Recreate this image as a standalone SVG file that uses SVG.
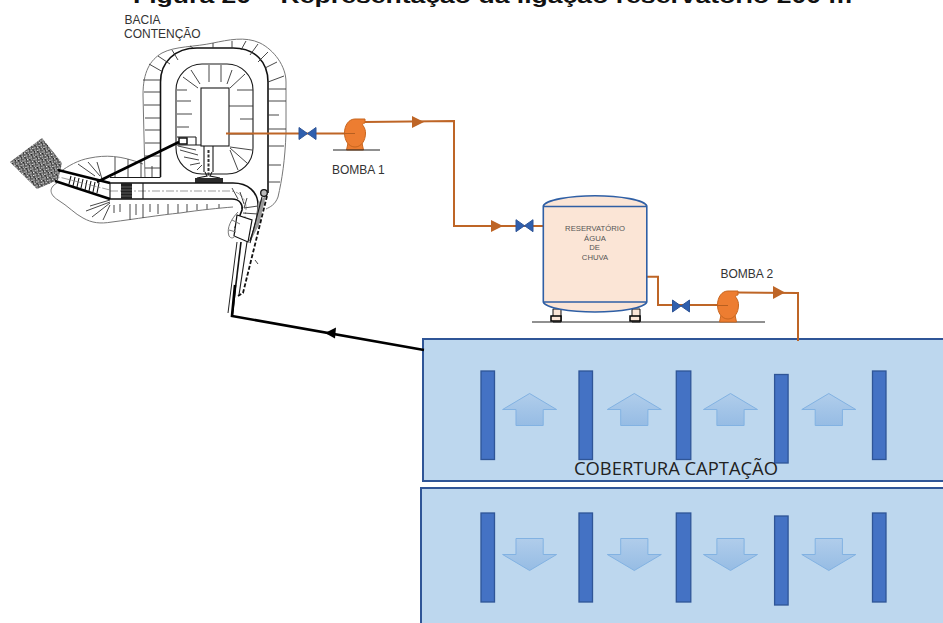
<svg xmlns="http://www.w3.org/2000/svg" width="943" height="623" viewBox="0 0 943 623">
<style>
text{font-family:"Liberation Sans",Arial,sans-serif}
.lab{font-size:12px;fill:#333}
.tk{font-size:7.7px;fill:#555;text-anchor:middle}
.pipe{fill:none;stroke:#BE6526;stroke-width:2}
.ah{fill:#BE6526}
.panel{fill:#BDD7EE;stroke:#2F5597;stroke-width:2}
.bar{fill:#4472C4;stroke:#2F5597;stroke-width:1.3}
.arr{fill:url(#ag);stroke:#82B2E2;stroke-width:1}
.valve{fill:#2F5FAE;stroke:#2F5597;stroke-width:1}
.pump{fill:#ED7D31;stroke:#C8661F;stroke-width:1}
.floor{stroke:#222;stroke-width:1.2;fill:none}
.gr{fill:none;stroke:#777;stroke-width:1}
.tick{fill:none;stroke:#333;stroke-width:.9}
.w{fill:none;stroke:#1a1a1a;stroke-width:1.1}
.th{fill:none;stroke:#111;stroke-width:1.6}
.thk{fill:none;stroke:#000;stroke-width:2.6}
.dd{fill:none;stroke:#777;stroke-width:.7;stroke-dasharray:8 2 2 2}
</style>
<defs>
<linearGradient id="ag" x1="0" y1="0" x2="0" y2="1"><stop offset="0" stop-color="#B0CDEB"/><stop offset="1" stop-color="#96BCE4"/></linearGradient>
<pattern id="sp" width="5" height="5" patternUnits="userSpaceOnUse" patternTransform="rotate(20)">
<rect width="5" height="5" fill="#555"/>
<rect x="0" y="0" width="1.4" height="1.2" fill="#fff"/><rect x="2.5" y="1.3" width="1.3" height="1.3" fill="#fff"/><rect x="1" y="3" width="1.4" height="1" fill="#eee"/><rect x="3.6" y="3.6" width="1.2" height="1.2" fill="#fff"/>
<rect x="3.9" y="0.3" width="1" height="1" fill="#000"/><rect x="2.2" y="4" width="1" height="1" fill="#000"/>
</pattern>
<g id="vv"><path class="valve" d="M-8.5,-6 L0,0 L-8.5,6Z M8.5,-6 L0,0 L8.5,6Z"/></g>
<g id="pp"><path class="pump" d="M-7,10 L-8.5,17 L8.5,17 L7,10Z"/><path class="pump" d="M0,-14 L10,-14 L10,-10 C8,-10 7,-9 8,-7.5 C10,-5 10.5,-2 10.5,0 C10.5,8 6,14 0,14 C-6,14 -10.5,8 -10.5,0 C-10.5,-8 -6,-14 0,-14Z"/></g>
</defs>

<rect width="943" height="623" fill="#fff"/>
<text id="titulo" x="133" y="2.5" font-size="19.5" font-weight="700" fill="#111" textLength="719" lengthAdjust="spacingAndGlyphs">Figura 20 – Representação da ligação reservatório 200 m</text>

<g id="cobertura-superior">
<rect class="panel" x="423" y="339" width="525" height="142"/>
<rect class="bar" x="481" y="371" width="13.5" height="88.5"/>
<rect class="bar" x="579" y="371" width="13.5" height="88.5"/>
<rect class="bar" x="676.3" y="371" width="14.5" height="88.5"/>
<rect class="bar" x="774.6" y="374.5" width="13.5" height="88.5"/>
<rect class="bar" x="872.5" y="371" width="13.5" height="88.5"/>
<path class="arr" d="M529.6,393.500 l27,16 h-13.400 v16 h-27.200 v-16 h-13.400Z"/>
<path class="arr" d="M634.300,393.500 l27,16 h-13.400 v16 h-27.200 v-16 h-13.400Z"/>
<path class="arr" d="M730.500,393.500 l27,16 h-13.400 v16 h-27.200 v-16 h-13.400Z"/>
<path class="arr" d="M828.800,393.500 l27,16 h-13.400 v16 h-27.200 v-16 h-13.400Z"/>
<text x="574" y="475" font-size="19" fill="#222" style="font-family:'Open Sans','Noto Sans',sans-serif" textLength="204" lengthAdjust="spacingAndGlyphs">COBERTURA CAPTAÇÃO</text>
</g>
<g id="cobertura-inferior">
<rect class="panel" x="421" y="488" width="527" height="140"/>
<rect class="bar" x="481" y="513" width="13.5" height="89"/>
<rect class="bar" x="579" y="513" width="13.5" height="89"/>
<rect class="bar" x="676.3" y="513" width="14.5" height="89"/>
<rect class="bar" x="774.6" y="516" width="13.5" height="89"/>
<rect class="bar" x="872.5" y="513" width="13.5" height="89"/>
<path class="arr" d="M529.6,570.500 l27,-16 h-13.400 v-16 h-27.200 v16 h-13.400Z"/>
<path class="arr" d="M634.300,570.500 l27,-16 h-13.400 v-16 h-27.200 v16 h-13.400Z"/>
<path class="arr" d="M730.500,570.500 l27,-16 h-13.400 v-16 h-27.200 v16 h-13.400Z"/>
<path class="arr" d="M828.800,570.500 l27,-16 h-13.400 v-16 h-27.200 v16 h-13.400Z"/>
</g>

<g id="bacia-contencao">
<text class="lab" x="124.500" y="24">BACIA</text>
<text class="lab" x="124" y="38">CONTENÇÃO</text>
<path class="gr" d="M145,178 L143,95 C143,72 150,60 162,53 C175,46 195,47 213,43 C228,40 245,36 260,43 C274,50 286,66 286,82 L286,133 C285,160 282,180 278,197 C275,205 270,207 266,209"/>
<path class="gr" d="M60,172 C68,166 78,160 90,158 C105,155 120,155 143,164"/>
<path class="gr" d="M57,183 C48,188 50,195 58,200 C68,206 75,214 83,218 C92,223 100,224 112,222 C135,219 160,215 180,213 C200,210 220,208 233,207"/>
<path class="th" d="M160.500,177 V82 C160.500,62 175,48 197,48 H233 C255,48 268,62 268,82 V193"/>
<path class="w" d="M110,177.500 H160.500"/>
<rect class="w" x="176" y="64" width="77" height="110" rx="26"/>
<rect class="w" x="201" y="88" width="28" height="58" fill="#fff"/>
<path class="w" d="M177,137 H196 M177,145 H201 M196,137 V145"/>
<rect x="179" y="138" width="8" height="6" fill="none" stroke="#111" stroke-width="1.500"/>
<path class="tick" d="M143,80 H160 M144,92 H160 M144,105 H160 M145,118 H160 M145,130 H160 M145,143 H160 M145,156 H160 M145,168 H160 M149,64 L163,72 M158,56 L170,64 M172,50 L178,60 M190,46 L193,48 M213,43 V48 M232,41 L232,48 M246,41 L241,50 M258,44 L250,55 M268,52 L258,62 M277,62 L265,68 M284,76 L268,82 M268,89 H286 M268,101 H286 M268,115 L279,115 M268,129 H286 M268,146 H284 M268,165 H281 M268,182 H280"/>
<path class="tick" d="M177,90 H187 M177,101 H191 M177,114 H192 M177,127 H189 M229,106 H253 M237,90 H253 M240,119 H253 M229,134 H253 M209,65 V82 M221,65 V82 M191,70 L200,84 M183,77 L198,88 M232,70 L227,84 M245,74 L230,88 M180,150 L198,155 M184,157 L199,160 M190,165 L200,163 M197,170 L202,165 M178,146 L196,150 M230,150 L238,170 M230,148 L247,163 M230,147 L252,150"/>
<path class="tick" d="M97,162 L102,179 M115,157 V177 M128,159 V177 M141,162 V177 M152,166 V177 M78,164 L95,176 M88,162 L100,176 M114,205 V213 M120,204 V212 M130,204 V220 M136,204 V215 M143,204 V218 M150,204 V212 M158,204 V214 M168,204 V214 M178,204 V213 M187,204 V212 M197,204 V210 M207,204 V209 M219,204 V208 M110,202 L86,211 M110,203 L92,217 M110,205 L103,220 M110,200 L90,206"/>
<path class="w" d="M204,146 V172 M213,146 V172"/>
<path class="w" d="M205,172 L207,176 L197,178 M212,172 L210,176 L220,178"/>
<rect x="195" y="178" width="28" height="5" fill="#2a2a2a"/>
<path d="M208.500,150 V176" stroke="#333" stroke-width="2" stroke-dasharray="3 1.500" fill="none"/>
<path class="th" d="M110,183 H233 C248,183 258,192 258,205 C258,215 255,228 250,241"/>
<path class="th" d="M110,199 H232 C240,199 243,205 242,210 L235,228"/>
<path class="dd" d="M110,191 H230 C240,191 247,200 246,210 L242,236"/>
<path class="w" d="M143,183 V199 M110,183 V199"/>
<rect x="121" y="183" width="11" height="16" fill="#222"/>
<path d="M121,187 H132 M121,190 H132 M121,193 H132 M121,196 H132" stroke="#777" stroke-width=".7"/>
<path d="M237,215 L252,220 L248,242 L234,236Z" fill="#fff" stroke="#111" stroke-width="1.200"/>
<path class="gr" d="M238,212 C232,218 226,228 229,236 C231,239 234,238 235,236 M232,220 L240,224 M229,230 L236,232"/>
<path class="tick" d="M232,188 L238,199 M240,192 L244,204 M247,198 L244,208 M258,206 L244,208 M258,214 L243,213"/>
<path d="M258,203 L266,195 L259,225 L250,242 L256,222Z" fill="#9a9a9a"/>
<circle cx="264" cy="193" r="3.300" fill="#bbb" stroke="#111" stroke-width="1.300"/>
<path class="w" d="M262,197 L250,243"/>
<path d="M237,242 L228,313" fill="none" stroke="#222" stroke-width="1"/>
<path class="th" d="M241,242 L232,317"/>
<path class="w" d="M247,242 L239,295"/>
<path fill="none" stroke="#111" stroke-width="1.800" stroke-dasharray="4 2" d="M267,196 L243,293 L238,296"/>
<path class="tick" d="M255,260 L258,264"/>
<path d="M42,138 L62,163 L58,180 L37,189 L10,162Z" fill="url(#sp)"/>
<path class="thk" d="M58,170 L110,183"/>
<path class="thk" d="M55,181 L110,199"/>
<path d="M71,176 L69,184 M75,177 L73,186 M79,178 L77,187 M83,179 L81,188 M87,180 L85,190 M91,181 L89,191 M95,182 L93,192 M99,183 L97,193" stroke="#111" stroke-width="1.100" fill="none"/>
<path class="dd" d="M110,190 L55,176"/>
<path class="thk" d="M179,142 L97,182"/>
</g>

<g id="connectors">
<path class="pipe" d="M226,133.500 H352"/>
<path class="pipe" d="M364,122 L454,121 V226 H543"/>
<path class="ah" d="M412,116 L424,122 L412,128Z"/>
<path class="ah" d="M491,220 L503,226 L491,232Z"/>
<path class="pipe" d="M647,276.700 H658 V305 H728"/>
<path class="pipe" d="M738,292.500 L798,293 V341"/>
<path class="ah" d="M773,286 L785,292.500 L773,299Z"/>
<path fill="none" stroke="#000" stroke-width="2.600" d="M424,350 L232,316 L235,285"/>
<path d="M325,333 L336,327.500 L335,338.500Z" fill="#000"/>
</g>

<g id="valvula-1"><use href="#vv" x="307.500" y="133.500"/></g>
<g id="bomba-1">
<use href="#pp" x="355" y="133"/>
<path d="M342,133.500 H355" stroke="#B85F20" stroke-width="1" fill="none"/>
<path class="floor" d="M333,150 H380"/>
<text class="lab" x="332" y="174">BOMBA 1</text>
</g>
<g id="valvula-2"><use href="#vv" x="524.500" y="225.700"/></g>
<g id="reservatorio">
<path d="M553,309 H561 V322 H553Z M632,309 H640 V322 H632Z" fill="#FBE5D6" stroke="#111" stroke-width="1"/>
<rect x="551" y="316" width="10" height="5" fill="#FBE5D6" stroke="#000" stroke-width="1.500"/>
<rect x="630" y="316" width="10" height="5" fill="#FBE5D6" stroke="#000" stroke-width="1.500"/>
<path d="M543.300,206 C545,200 570,195.700 595,195.700 C620,195.700 645,200 646.800,206 V302 C645,308 620,312 595,312 C570,312 545,308 543.300,302Z" fill="#FBE5D6" stroke="#2F5FA5" stroke-width="1.600"/>
<path d="M543.300,206.500 H646.800 M543.300,302 H646.800" stroke="#2F5FA5" stroke-width="1.600" fill="none"/>
<text class="tk" x="595" y="231">RESERVATÓRIO</text>
<text class="tk" x="595" y="240.500">ÁGUA</text>
<text class="tk" x="594.500" y="250">DE</text>
<text class="tk" x="595" y="259.500">CHUVA</text>
</g>
<path id="base-linha" class="floor" d="M532,322 H765"/>
<g id="valvula-3"><use href="#vv" x="681" y="306"/></g>
<g id="bomba-2">
<use href="#pp" x="728" y="305"/>
<path d="M715,305.500 H728" stroke="#B85F20" stroke-width="1" fill="none"/>
<text class="lab" x="720.500" y="278">BOMBA 2</text>
</g>
</svg>
